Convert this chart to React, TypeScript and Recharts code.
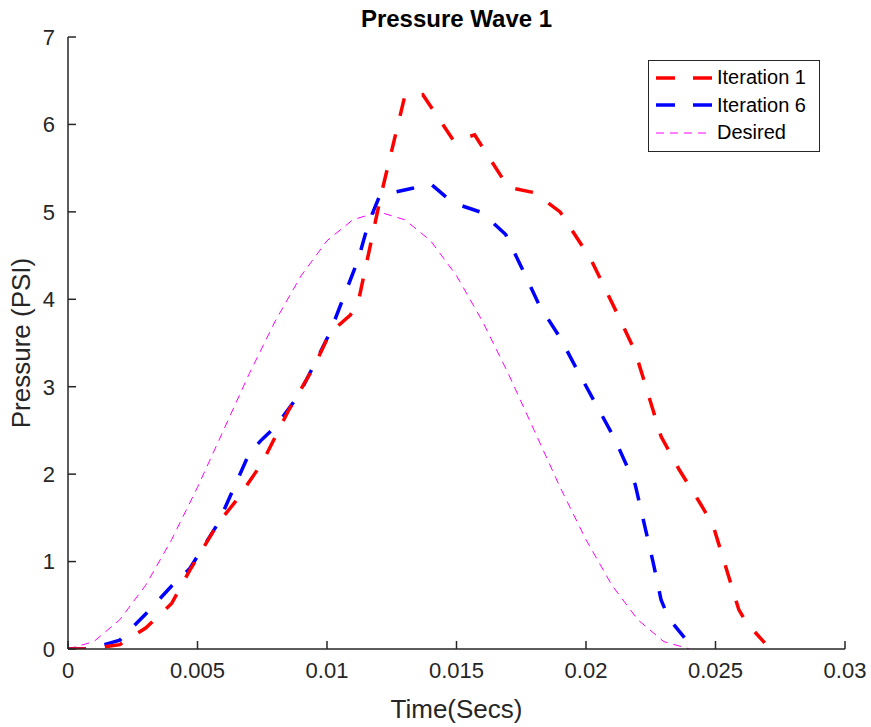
import React from "react";
import { LineChart, Line, XAxis, YAxis, Legend } from "recharts";

const xTicks = [0, 0.005, 0.01, 0.015, 0.02, 0.025, 0.03];
const xTickLabels = ["0", "0.005", "0.01", "0.015", "0.02", "0.025", "0.03"];
const yTicks = [0, 1, 2, 3, 4, 5, 6, 7];

const iter1Time = [0, 0.0008, 0.002, 0.003, 0.004, 0.0047, 0.0058, 0.0065, 0.0075, 0.0085, 0.0095, 0.0101, 0.0109, 0.0112, 0.0121, 0.013, 0.0137, 0.0149, 0.0157, 0.017, 0.018, 0.019, 0.0202, 0.0212, 0.0219, 0.0229, 0.0236, 0.0244, 0.0249, 0.0259, 0.0262, 0.0269];
const iter1Pressure = [0, 0, 0.05, 0.24, 0.52, 0.9, 1.44, 1.7, 2.13, 2.72, 3.23, 3.61, 3.82, 3.96, 5.21, 6.32, 6.34, 5.81, 5.88, 5.28, 5.22, 5.0, 4.45, 3.84, 3.4, 2.43, 2.05, 1.67, 1.42, 0.45, 0.3, 0.07];

const iter6Time = [0, 0.0008, 0.002, 0.003, 0.004, 0.0047, 0.0058, 0.0064, 0.007, 0.0075, 0.008, 0.0089, 0.0095, 0.0101, 0.0112, 0.0116, 0.012, 0.0124, 0.0133, 0.014, 0.0146, 0.0151, 0.016, 0.0169, 0.0176, 0.0182, 0.019, 0.0197, 0.0211, 0.0219, 0.0226, 0.0229, 0.0232, 0.0238];
const iter6Pressure = [0, 0, 0.1, 0.4, 0.72, 0.92, 1.44, 1.84, 2.24, 2.4, 2.54, 2.9, 3.25, 3.61, 4.45, 4.87, 5.16, 5.21, 5.27, 5.32, 5.17, 5.08, 4.99, 4.74, 4.31, 3.93, 3.56, 3.17, 2.41, 1.88, 0.98, 0.56, 0.35, 0.13];

const desiredTime = [0, 0.001, 0.002, 0.003, 0.004, 0.005, 0.006, 0.007, 0.008, 0.009, 0.01, 0.011, 0.012, 0.013, 0.014, 0.015, 0.016, 0.017, 0.018, 0.019, 0.02, 0.021, 0.022, 0.023, 0.024];
const desiredPressure = [0, 0.085, 0.335, 0.73, 1.25, 1.85, 2.5, 3.15, 3.75, 4.27, 4.67, 4.91, 5.0, 4.91, 4.67, 4.27, 3.75, 3.15, 2.5, 1.85, 1.25, 0.73, 0.335, 0.085, 0];

const toPoints = (t: number[], p: number[]) => t.map((x, i) => ({ t: x, p: p[i] }));

const iter1 = toPoints(iter1Time, iter1Pressure);
const iter6 = toPoints(iter6Time, iter6Pressure);
const desired = toPoints(desiredTime, desiredPressure);

const FONT = '"Liberation Sans", Arial, Helvetica, sans-serif';
const AXIS = "#262626";

const legendItems = [
  { name: "Iteration 1", color: "#ff0000", width: 3.5, dash: "19 18" },
  { name: "Iteration 6", color: "#0000ff", width: 3.5, dash: "19 18" },
  { name: "Desired", color: "#ff00ff", width: 1, dash: "8 6" },
];

function LegendBox() {
  return (
    <div
      style={{
        width: 170,
        height: 90,
        border: "1px solid #262626",
        background: "#fff",
        fontFamily: FONT,
        fontSize: 20,
        color: "#000",
        boxSizing: "content-box",
      }}
    >
      {legendItems.map((it) => (
        <div key={it.name} style={{ display: "flex", alignItems: "center", height: 27.5, marginTop: it.name === "Iteration 1" ? 3 : 0 }}>
          <svg width={68} height={20}>
            <line x1={7} x2={63} y1={10} y2={10} stroke={it.color} strokeWidth={it.width} strokeDasharray={it.dash} />
          </svg>
          <span>{it.name}</span>
        </div>
      ))}
    </div>
  );
}

export default function App() {
  return (
    <div style={{ position: "absolute", left: 0, top: 0, width: 871, height: 727, background: "#fff" }}>
      <div
        style={{
          position: "absolute",
          left: 68,
          top: 5,
          width: 777,
          textAlign: "center",
          fontFamily: FONT,
          fontWeight: "bold",
          fontSize: 24,
          color: "#000",
        }}
      >
        Pressure Wave 1
      </div>
      <LineChart width={871} height={727} margin={{ top: 37, right: 26, bottom: 28, left: 0 }}>
        <XAxis
          dataKey="t"
          type="number"
          domain={[0, 0.03]}
          ticks={xTicks}
          tickFormatter={(v) => xTickLabels[xTicks.indexOf(v)] ?? String(v)}
          tickSize={-8}
          tickMargin={21}
          height={50}
          stroke={AXIS}
          strokeWidth={1.5}
          tick={{ fill: AXIS, fontSize: 22, fontFamily: FONT }}
          allowDataOverflow
          label={{
            content: ({ viewBox }: any) => (
              <text
                x={viewBox.x + viewBox.width / 2}
                y={viewBox.y + 69}
                textAnchor="middle"
                fill={AXIS}
                fontSize={26}
                fontFamily={FONT}
              >
                Time(Secs)
              </text>
            ),
          }}
        />
        <YAxis
          dataKey="p"
          type="number"
          domain={[0, 7]}
          ticks={yTicks}
          tickSize={-8}
          tickMargin={21}
          width={68}
          stroke={AXIS}
          strokeWidth={1.5}
          tick={{ fill: AXIS, fontSize: 22, fontFamily: FONT }}
          allowDataOverflow
          label={{
            content: ({ viewBox }: any) => {
              const cx = 30;
              const cy = viewBox.y + viewBox.height / 2;
              return (
                <text
                  x={cx}
                  y={cy}
                  transform={`rotate(-90, ${cx}, ${cy})`}
                  textAnchor="middle"
                  fill={AXIS}
                  fontSize={26}
                  fontFamily={FONT}
                >
                  Pressure (PSI)
                </text>
              );
            },
          }}
        />
        <Legend
          layout="vertical"
          align="center"
          verticalAlign="middle"
          content={() => <LegendBox />}
          wrapperStyle={{ position: "absolute", left: 648, top: 60, width: 172, height: 92 }}
        />
        <Line
          data={desired}
          dataKey="p"
          name="Desired"
          type="linear"
          stroke="#ff00ff"
          strokeWidth={1}
          strokeDasharray="8 6"
          dot={false}
          isAnimationActive={false}
        />
        <Line
          data={iter6}
          dataKey="p"
          name="Iteration 6"
          type="linear"
          stroke="#0000ff"
          strokeWidth={3.5}
          strokeDasharray="18 19"
          dot={false}
          isAnimationActive={false}
        />
        <Line
          data={iter1}
          dataKey="p"
          name="Iteration 1"
          type="linear"
          stroke="#ff0000"
          strokeWidth={3.5}
          strokeDasharray="18 19"
          dot={false}
          isAnimationActive={false}
        />
      </LineChart>
    </div>
  );
}
